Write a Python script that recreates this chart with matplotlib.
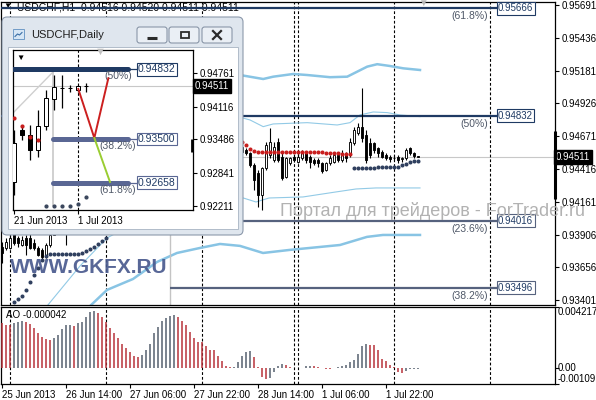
import matplotlib.pyplot as plt
from matplotlib.patches import Rectangle, FancyBboxPatch

plt.rcParams['font.family'] = ['Liberation Sans', 'DejaVu Sans']

W, H = 596, 400

# ---------------- USDCHF, H1 : bar 0 = 25 Jun 22:00 ... bar 104 = 2 Jul 06:00
h1_open = [
    0.93812, 0.93804, 0.93804, 0.93910, 0.93882, 0.93827, 0.93882, 0.93882, 0.93843, 0.93804,
    0.93789, 0.93734, 0.93827, 0.93905, 0.93960, 0.93990, 0.93950, 0.93970, 0.94030, 0.94060,
    0.94100, 0.94080, 0.94130, 0.94170, 0.94140, 0.94190, 0.94240, 0.94220, 0.94280, 0.94310,
    0.94290, 0.94350, 0.94380, 0.94360, 0.94420, 0.94460, 0.94430, 0.94490, 0.94540, 0.94520,
    0.94560, 0.94600, 0.94580, 0.94620, 0.94650, 0.94630, 0.94670, 0.94690, 0.94660, 0.94640,
    0.94610, 0.94630, 0.94600, 0.94620, 0.94590, 0.94610, 0.94580, 0.94600, 0.94570, 0.94590,
    0.94591, 0.94565, 0.94539, 0.94448, 0.94384, 0.94216, 0.94423, 0.94526, 0.94487, 0.94630,
    0.94513, 0.94358, 0.94461, 0.94513, 0.94474, 0.94500, 0.94539, 0.94513, 0.94487, 0.94487,
    0.94461, 0.94410, 0.94461, 0.94474, 0.94526, 0.94487, 0.94539, 0.94526, 0.94617, 0.94695,
    0.94746, 0.94682, 0.94617, 0.94617, 0.94578, 0.94552, 0.94526, 0.94513, 0.94505, 0.94513,
    0.94495, 0.94500, 0.94578, 0.94539, 0.94516]
h1_high = [
    0.93850, 0.93880, 0.93920, 0.93940, 0.93900, 0.93895, 0.93905, 0.93910, 0.93870, 0.93820,
    0.93800, 0.93840, 0.93930, 0.93980, 0.94010, 0.94020, 0.93990, 0.94050, 0.94080, 0.94120,
    0.94140, 0.94150, 0.94190, 0.94210, 0.94200, 0.94260, 0.94280, 0.94300, 0.94330, 0.94350,
    0.94370, 0.94400, 0.94420, 0.94440, 0.94480, 0.94500, 0.94510, 0.94560, 0.94590, 0.94580,
    0.94620, 0.94650, 0.94640, 0.94680, 0.94700, 0.94690, 0.94720, 0.94730, 0.94710, 0.94680,
    0.94660, 0.94670, 0.94650, 0.94660, 0.94640, 0.94650, 0.94630, 0.94640, 0.94620, 0.94630,
    0.94604, 0.94578, 0.94552, 0.94461, 0.94410, 0.94435, 0.94630, 0.94733, 0.94630, 0.94656,
    0.94539, 0.94513, 0.94513, 0.94526, 0.94539, 0.94565, 0.94552, 0.94526, 0.94500, 0.94500,
    0.94474, 0.94474, 0.94526, 0.94539, 0.94552, 0.94565, 0.94552, 0.94656, 0.94746, 0.94772,
    0.95044, 0.94720, 0.94656, 0.94630, 0.94591, 0.94565, 0.94539, 0.94526, 0.94526, 0.94526,
    0.94513, 0.94578, 0.94591, 0.94552, 0.94520]
h1_low = [
    0.93688, 0.93790, 0.93795, 0.93830, 0.93812, 0.93820, 0.93750, 0.93795, 0.93789, 0.93740,
    0.93720, 0.93726, 0.93815, 0.93905, 0.93930, 0.93940, 0.93827, 0.93950, 0.94000, 0.94040,
    0.94060, 0.94070, 0.94110, 0.94120, 0.94130, 0.94170, 0.94200, 0.94210, 0.94250, 0.94270,
    0.94280, 0.94320, 0.94340, 0.94350, 0.94400, 0.94410, 0.94420, 0.94470, 0.94500, 0.94490,
    0.94540, 0.94560, 0.94550, 0.94600, 0.94610, 0.94600, 0.94640, 0.94650, 0.94620, 0.94590,
    0.94580, 0.94590, 0.94570, 0.94580, 0.94560, 0.94570, 0.94550, 0.94560, 0.94540, 0.94560,
    0.94539, 0.94526, 0.94435, 0.94254, 0.94125, 0.94099, 0.94410, 0.94500, 0.94474, 0.94474,
    0.94332, 0.94345, 0.94448, 0.94474, 0.94461, 0.94487, 0.94461, 0.94423, 0.94448, 0.94435,
    0.94384, 0.94404, 0.94448, 0.94461, 0.94474, 0.94474, 0.94474, 0.94513, 0.94604, 0.94682,
    0.94630, 0.94461, 0.94500, 0.94539, 0.94513, 0.94500, 0.94487, 0.94474, 0.94487, 0.94461,
    0.94474, 0.94487, 0.94526, 0.94505, 0.94511]
h1_close = [
    0.93765, 0.93851, 0.93882, 0.93843, 0.93843, 0.93866, 0.93827, 0.93804, 0.93804, 0.93750,
    0.93734, 0.93827, 0.93905, 0.93960, 0.93990, 0.93950, 0.93970, 0.94030, 0.94060, 0.94100,
    0.94080, 0.94130, 0.94170, 0.94140, 0.94190, 0.94240, 0.94220, 0.94280, 0.94310, 0.94290,
    0.94350, 0.94380, 0.94360, 0.94420, 0.94460, 0.94430, 0.94490, 0.94540, 0.94520, 0.94560,
    0.94600, 0.94580, 0.94620, 0.94650, 0.94630, 0.94670, 0.94690, 0.94660, 0.94640, 0.94610,
    0.94630, 0.94600, 0.94620, 0.94590, 0.94610, 0.94580, 0.94600, 0.94570, 0.94590, 0.94600,
    0.94552, 0.94539, 0.94448, 0.94332, 0.94216, 0.94423, 0.94604, 0.94630, 0.94591, 0.94487,
    0.94345, 0.94500, 0.94500, 0.94487, 0.94513, 0.94539, 0.94487, 0.94474, 0.94461, 0.94461,
    0.94404, 0.94461, 0.94505, 0.94526, 0.94487, 0.94539, 0.94500, 0.94630, 0.94720, 0.94746,
    0.94656, 0.94487, 0.94526, 0.94565, 0.94539, 0.94513, 0.94500, 0.94495, 0.94500, 0.94487,
    0.94500, 0.94565, 0.94539, 0.94520, 0.94511]

# dotted indicator
dots_dark1_x = list(range(3, 27))
dots_dark1 = [0.93385, 0.93408, 0.93431, 0.93478, 0.93540, 0.93594, 0.93649, 0.93711, 0.93742,
              0.93757, 0.93757, 0.93757, 0.93757, 0.93757, 0.93757, 0.93757, 0.93757,
              0.93765, 0.93781, 0.93796, 0.93812, 0.93835, 0.93858, 0.93882]
dots_red_x = list(range(60, 88))
dots_red = [0.94630, 0.94604, 0.94571, 0.94557, 0.94550, 0.94550, 0.94551, 0.94550, 0.94549,
            0.94550, 0.94550, 0.94551, 0.94550, 0.94549, 0.94550, 0.94550, 0.94546, 0.94546,
            0.94546, 0.94546, 0.94546, 0.94539, 0.94539, 0.94539, 0.94539, 0.94534, 0.94534,
            0.94534]
dots_dark2_x = list(range(88, 105))
dots_dark2 = [0.94423, 0.94423, 0.94423, 0.94423, 0.94423, 0.94423, 0.94429, 0.94429, 0.94429,
              0.94435, 0.94435, 0.94435, 0.94449, 0.94456, 0.94468, 0.94476, 0.94482]

# bands read at knots (bar index, price)
band_up_thick_x = [59.5, 65.3, 67.8, 72.8, 76.3, 82, 86.3, 88.8, 91.3, 93.8, 97, 100.3, 104.5]
band_up_thick = [0.95147, 0.95116, 0.95134, 0.95155, 0.95147, 0.95130, 0.95134, 0.95173,
                 0.95212, 0.95231, 0.95217, 0.95199, 0.95186]
band_up_thin_x = [59.5, 62, 65.3, 67.8, 76.3, 83.8, 87, 89.5, 92.8, 96.3, 99.5, 104.5]
band_up_thin = [0.94819, 0.94798, 0.94746, 0.94767, 0.94777, 0.94759, 0.94777, 0.94837,
                0.94860, 0.94855, 0.94837, 0.94824]
band_lo_thin_x = [11.5, 19.5, 26.25, 32, 49.5, 59.5, 63.5, 66.75, 75.25, 83.5, 88.5, 93.5, 104.5]
band_lo_thin = [0.93362, 0.93664, 0.93882, 0.93975, 0.94138, 0.94200, 0.94161, 0.94192,
                0.94200, 0.94239, 0.94262, 0.94270, 0.94270]
band_lo_thick_x = [21.5, 26.25, 32.75, 38.75, 43.75, 49.5, 54.5, 59.5, 65.25, 72, 84.5, 91.25,
                   95.25, 104.5]
band_lo_thick = [0.93338, 0.93478, 0.93563, 0.93695, 0.93765, 0.93804, 0.93835, 0.93820,
                 0.93765, 0.93789, 0.93827, 0.93890, 0.93905, 0.93905]

fib_levels = [0.95666, 0.94832, 0.94016, 0.93496]
fib_pct = ['(61.8%)', '(50%)', '(23.6%)', '(38.2%)']
fib_start = [-0.25, -0.25, 42, 42]
fib_colors = ['#1f3a63', '#1f3a63', '#56627e', '#56627e']
fib_anchor = 42

separators = [2, 26, 50, 73, 74, 98, 122]
time_ticks = [0, 16, 32, 48, 64, 80, 96]
time_labels = ['25 Jun 2013', '26 Jun 14:00', '27 Jun 06:00', '27 Jun 22:00',
               '28 Jun 14:00', '1 Jul 06:00', '1 Jul 22:00']
price_ticks = [0.95691, 0.95436, 0.95181, 0.94926, 0.94671, 0.94416, 0.94161, 0.93906,
               0.93656, 0.93401]
last_price = 0.94511
axis_bar = [0.94185, 0.94713]

ao = [0.00310, 0.00300, 0.00299, 0.00310, 0.00319, 0.00322, 0.00315, 0.00303, 0.00275, 0.00240,
      0.00214, 0.00198, 0.00191, 0.00210, 0.00226, 0.00273, 0.00296, 0.00298, 0.00294, 0.00310,
      0.00315, 0.00350, 0.00385, 0.00396, 0.00378, 0.00350, 0.00315, 0.00275, 0.00245, 0.00210,
      0.00170, 0.00140, 0.00110, 0.00082, 0.00075, 0.00093, 0.00128, 0.00168, 0.00245, 0.00287,
      0.00322, 0.00345, 0.00357, 0.00366, 0.00350, 0.00322, 0.00298, 0.00252, 0.00210, 0.00182,
      0.00180, 0.00152, 0.00128, 0.00124, 0.00082, 0.00047, 0.00016, 0.00006, 0.00008, 0.00042,
      0.00082, 0.00110, 0.00117, 0.00077, 0.00005, -0.00058, -0.00075, -0.00065, -0.00028, 0.00016,
      0.00030, 0.00023, 0.00005, 0.00003, 0.00002, 0.00001, 0.00012, 0.00016, 0.00015, 0.00007,
      0.00000, -0.00003, -0.00004, 0.00004, 0.00006, 0.00012, 0.00019, 0.00042, 0.00058, 0.00098,
      0.00152, 0.00168, 0.00163, 0.00159, 0.00128, 0.00063, 0.00047, 0.00023, 0.00007, -0.00023,
      -0.00030, -0.00016, -0.00007, -0.00005, -0.000042]
ao_range = [-0.00109, 0.004217]

# ---------------- USDCHF, Daily (inset window)
d_open = [0.92671, 0.93668, 0.93573, 0.93285, 0.93745, 0.94263, 0.94473, 0.94480, 0.94435, 0.94516]
d_high = [0.93668, 0.93764, 0.93764, 0.94052, 0.94435, 0.94723, 0.94723, 0.94531, 0.94531, 0.94569]
d_low = [0.92422, 0.93477, 0.93093, 0.93151, 0.93668, 0.94052, 0.94090, 0.94397, 0.94397, 0.94397]
d_close = [0.93419, 0.93573, 0.93285, 0.93745, 0.94282, 0.94487, 0.94480, 0.94470, 0.94512, 0.94511]
d_red_dots = [0.93898, 0.93745, 0.93534, 0.93477]
d_sar_x = [4, 5, 6, 7, 8, 9]
d_sar = [0.92211, 0.92211, 0.92211, 0.92211, 0.92250, 0.92384]
d_fib = [0.94832, 0.93500, 0.92658]
d_fib_pct = ['(50%)', '(38.2%)', '(61.8%)']
d_fib_start = [-0.125, 4.875, 4.875]
d_fib_colors = ['#1f3a63', '#5a6794', '#5a6794']
d_zig_red_x = [8.04, 10.04, 11.79]
d_zig_red = [0.94454, 0.93515, 0.94659]
d_zig_green_x = [10.04, 12.0]
d_zig_green = [0.93515, 0.92671]
d_trend_x = [-0.125, 4.875]
d_trend = [0.93994, 0.94780]
d_ticks = [0.94761, 0.94116, 0.93486, 0.92841, 0.92211]
d_date_ticks = [0, 8]
d_date_labels = ['21 Jun 2013', '1 Jul 2013']
d_axis_bar = [0.93247, 0.93496]


def draw_candles(a, o, h, l, c, width, lw, mindiff):
    xs = list(range(len(o)))
    a.vlines(xs, l, h, color='black', lw=lw, zorder=4)
    bottoms = [min(op, cl) for op, cl in zip(o, c)]
    heights = [max(abs(cl - op), mindiff) for op, cl in zip(o, c)]
    fills = ['white' if cl > op else 'black' for op, cl in zip(o, c)]
    a.bar(xs, heights, width, bottom=bottoms, color=fills, edgecolor='black',
          linewidth=lw * 0.8, zorder=5)


fig = plt.figure(figsize=(W / 100, H / 100), dpi=100)
fig.patch.set_facecolor('white')

# ---- main H1 panel
ax = fig.add_axes([1 / W, 1 - 305 / H, 554 / W, 303 / H], zorder=1)
ax.set_xlim(-0.25, 138.25)
ax.set_ylim(0.93361, 0.95714)
for s in ax.spines.values():
    s.set_linewidth(0.9)
ax.set_xticks([])
ax.yaxis.tick_right()
ax.set_yticks(price_ticks, labels=[f'{v:.5f}' for v in price_ticks])
ax.tick_params(axis='y', length=3, width=0.8, pad=1.5, labelsize=7)

ax.axhline(last_price, color='#c8c8c8', lw=0.8, zorder=1)
for s in separators:
    ax.axvline(s, color='black', lw=0.8, ls=(0, (2.5, 1.8)), zorder=2)

ax.plot(band_up_thick_x, band_up_thick, color='#88c4e4', lw=1.8, zorder=2)
ax.plot(band_lo_thick_x, band_lo_thick, color='#88c4e4', lw=1.8, zorder=2)
ax.plot(band_up_thin_x, band_up_thin, color='#92cae6', lw=0.8, zorder=2)
ax.plot(band_lo_thin_x, band_lo_thin, color='#92cae6', lw=0.8, zorder=2)

ax.vlines(fib_anchor, 0.93361, 0.9500, color='#c4c4c4', lw=1, zorder=2)
for lvl, pct, st, col in zip(fib_levels, fib_pct, fib_start, fib_colors):
    ax.hlines(lvl, st, 124, color=col, lw=1.6, zorder=3)
    ax.text(124, lvl, f'{lvl:.5f}', fontsize=7, color='#1f3a63', va='center', ha='left',
            bbox=dict(boxstyle='square,pad=0.15', fc='white', ec=col, lw=0.8), zorder=6)
    ax.annotate(pct, (121.5, lvl), xytext=(0, -2.2), textcoords='offset points',
                ha='right', va='top', fontsize=7.5, color='#4f5868', zorder=6)

draw_candles(ax, h1_open, h1_high, h1_low, h1_close, 0.62, 0.8, 0.00002)

ax.plot(dots_dark1_x, dots_dark1, ls='none', marker='o', ms=1.9, color='#2f3f5e', zorder=6)
ax.plot(dots_red_x, dots_red, ls='none', marker='o', ms=1.9, color='#c81e1e', zorder=6)
ax.plot(dots_dark2_x, dots_dark2, ls='none', marker='o', ms=1.9, color='#2f3f5e', zorder=6)

ax.text(1.0018, last_price, f'{last_price:.5f}', transform=ax.get_yaxis_transform(),
        fontsize=7, color='white', va='center', ha='left', zorder=7,
        bbox=dict(boxstyle='square,pad=0.18', fc='black', ec='black'))
ax.plot([0.9991, 0.9991], axis_bar, transform=ax.get_yaxis_transform(), color='black',
        lw=2.2, solid_capstyle='butt', clip_on=False, zorder=7)

ax.annotate('\u25bc', xy=(7, H - 6), xycoords='figure pixels', fontsize=6, ha='center',
            va='center', zorder=1.5)
ax.annotate('USDCHF,H1  0.94516 0.94520 0.94511 0.94511', xy=(17, H - 8),
            xycoords='figure pixels', fontsize=7.5, ha='left', va='center', zorder=1.5)
ax.annotate('\u25bc', xy=(423, H - 3), xycoords='figure pixels', fontsize=7, color='#b8b8b8',
            ha='center', va='center', zorder=7)

# ---- AO panel
ao_ax = fig.add_axes([1 / W, 1 - 384 / H, 554 / W, 77 / H], zorder=1)
ao_ax.set_xlim(-0.25, 138.25)
ao_ax.set_ylim(*ao_range)
for s in ao_ax.spines.values():
    s.set_linewidth(0.9)
ao_colors = ['#b8333b'] + ['#b8333b' if ao[i] < ao[i - 1] else '#56606f' for i in range(1, len(ao))]
ao_ax.vlines(list(range(len(ao))), 0, ao, colors=ao_colors, lw=1.1, zorder=3)
for s in separators:
    ao_ax.axvline(s, color='black', lw=0.8, ls=(0, (2.5, 1.8)), zorder=2)
ao_ax.yaxis.tick_right()
ao_ax.set_yticks([ao_range[1], 0.0, ao_range[0]], labels=['', '', ''])
ao_ax.tick_params(axis='y', length=3, width=0.8)
yt = ao_ax.get_yaxis_transform()
ao_ax.text(1.0054, ao_range[1], '0.004217', transform=yt, fontsize=7, va='top', ha='left')
ao_ax.text(1.0054, 0.0, '0.00', transform=yt, fontsize=7, va='center', ha='left')
ao_ax.text(1.0054, ao_range[0], '-0.00109', transform=yt, fontsize=7, va='bottom', ha='left')
ao_ax.set_xticks(time_ticks, labels=time_labels)
ao_ax.tick_params(axis='x', length=3, width=0.8, pad=1, labelsize=7)
plt.setp(ao_ax.get_xticklabels(), ha='left')
ao_ax.annotate('AO -0.000042', xy=(6, H - 315), xycoords='figure pixels', fontsize=7,
               ha='left', va='center')

# ---- watermarks
fig.text(280 / W, 1 - 216 / H, 'Портал для трейдеров - ForTrader.ru', fontsize=13,
         color='#b2b2b2', va='baseline', ha='left')
fig.text(10 / W, 1 - 273 / H, 'WWW.GKFX.RU', fontsize=15, fontweight='bold',
         color='#4a5a8e', va='baseline', ha='left', alpha=0.92)

# ---- inset window frame
ov = fig.add_axes([0, 0, 1, 1], zorder=5)
ov.set_xlim(0, W)
ov.set_ylim(H, 0)
ov.axis('off')
ov.add_patch(FancyBboxPatch((2, 17), 241, 218, boxstyle='round,pad=0,rounding_size=5',
                            fc='#dfe6ee', ec='#8c99ab', lw=0.8))
ov.add_patch(Rectangle((8, 47), 230, 182, fc='white', ec='#a7b3c2', lw=0.6))
ov.add_patch(Rectangle((13, 29), 11, 10, fc='#d6e6f5', ec='#5f8fc0', lw=0.6))
ov.plot([15, 17.5, 19.5, 22], [36.5, 34, 35, 32.5], color='#3a6ea5', lw=0.8)
ov.text(31, 35.5, 'USDCHF,Daily', fontsize=8, color='#1e1e1e', va='center', ha='left')
for bx in (137, 169, 202):
    ov.add_patch(FancyBboxPatch((bx, 27), 30, 16, boxstyle='round,pad=0,rounding_size=2.5',
                                fc='#eaeff5', ec='#7d8b9e', lw=0.7))
ov.plot([147, 157], [37.5, 37.5], color='#2b2b2b', lw=2.2, solid_capstyle='butt')
ov.add_patch(Rectangle((181, 31.5), 7.5, 6.5, fill=False, ec='#2b2b2b', lw=1.3))
ov.plot([213, 221], [31, 39], color='#2b2b2b', lw=1.6)
ov.plot([213, 221], [39, 31], color='#2b2b2b', lw=1.6)

# ---- inset daily chart
ins = fig.add_axes([13 / W, 1 - 210 / H, 180 / W, 160 / H], zorder=6)
ins.set_xlim(-0.125, 22.375)
ins.set_ylim(0.92134, 0.95202)
for s in ins.spines.values():
    s.set_linewidth(0.9)
ins.yaxis.tick_right()
ins.set_yticks(d_ticks, labels=[f'{v:.5f}' for v in d_ticks])
ins.tick_params(axis='y', length=3, width=0.8, pad=1.5, labelsize=7)
ins.set_xticks(d_date_ticks, labels=d_date_labels)
ins.tick_params(axis='x', length=3, width=0.8, pad=1, labelsize=7)
plt.setp(ins.get_xticklabels(), ha='left')

ins.axhline(last_price, color='#c8c8c8', lw=0.8, zorder=1)
ins.axvline(8, color='black', lw=0.8, ls=(0, (2.5, 1.8)), zorder=2)
ins.plot(d_trend_x, d_trend, color='#cfcfcf', lw=1, zorder=2)
ins.vlines(d_trend_x[1], d_sar[-3], d_trend[1], color='#c8c8c8', lw=1.2, zorder=2)
for lvl, pct, st, col in zip(d_fib, d_fib_pct, d_fib_start, d_fib_colors):
    ins.plot([st, 14.25], [lvl, lvl], color=col, lw=3.6, solid_capstyle='round', zorder=3)
    ins.plot([14.25, 15.5], [lvl, lvl], color=col, lw=0.9, zorder=3)
    ins.text(15.5, lvl, f'{lvl:.5f}', fontsize=7.5, color='#1f3a63', va='center', ha='left',
             bbox=dict(boxstyle='square,pad=0.12', fc='white', ec=col, lw=0.8), zorder=6)
    ins.annotate(pct, (13, lvl), xytext=(0, -1.5), textcoords='offset points',
                 ha='center', va='top', fontsize=7.5, color='#4f5868', zorder=6)
draw_candles(ins, d_open, d_high, d_low, d_close, 0.42, 0.9, 0.00006)
ins.plot(d_zig_red_x, d_zig_red, color='#cc1f1f', lw=1.4, zorder=6)
ins.plot(d_zig_green_x, d_zig_green, color='#9acd32', lw=1.4, zorder=6)
ins.plot(list(range(len(d_red_dots))), d_red_dots, ls='none', marker='o', ms=2,
         color='#c81e1e', zorder=7)
ins.plot(d_sar_x, d_sar, ls='none', marker='o', ms=2, color='#3a465c', zorder=7)
ins.text(1.011, last_price, f'{last_price:.5f}', transform=ins.get_yaxis_transform(),
         fontsize=7, color='white', va='center', ha='left', zorder=7,
         bbox=dict(boxstyle='square,pad=0.18', fc='black', ec='black'))
ins.plot([0.994, 0.994], d_axis_bar, transform=ins.get_yaxis_transform(), color='black',
         lw=2, solid_capstyle='butt', clip_on=False, zorder=7)
ins.annotate('\u25bc', xy=(20, H - 58), xycoords='figure pixels', fontsize=6, ha='center',
             va='center', zorder=7)
ins.annotate('\u25bc', xy=(100, H - 52), xycoords='figure pixels', fontsize=8,
             color='#c0c0c0', ha='center', va='center', zorder=7)

fig.savefig('out.png', dpi=100)
